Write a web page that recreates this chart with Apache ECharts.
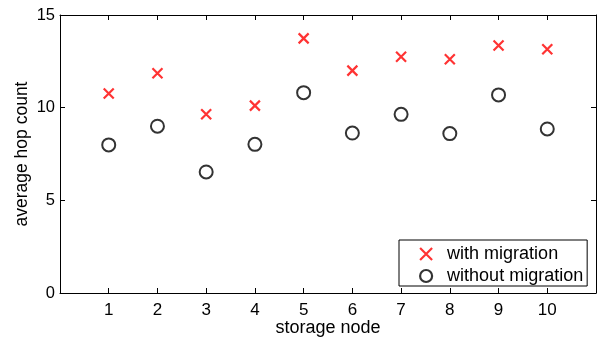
<!DOCTYPE html>
<html>
<head>
<meta charset="utf-8">
<script src="https://cdn.jsdelivr.net/npm/echarts@6/dist/echarts.min.js"></script>
<style>
html,body{margin:0;padding:0;background:#fff;}
#c{width:603px;height:337px;}
</style>
</head>
<body>
<div id="c"></div>
<script>
var nodes = [1, 2, 3, 4, 5, 6, 7, 8, 9, 10];
var withMigration = [10.76, 11.86, 9.64, 10.11, 13.74, 12.0, 12.75, 12.61, 13.35, 13.15];
var withoutMigration = [7.99, 9.0, 6.53, 8.02, 10.81, 8.63, 9.64, 8.6, 10.69, 8.85];
var yTicks = [0, 5, 10, 15];

var FONT = 'Liberation Sans, Arial, sans-serif';
var crossPath = 'path://M0,0L10,10M10,0L0,10';

function pairs(xs, ys) { return xs.map(function (x, i) { return [x, ys[i]]; }); }

var chart = echarts.init(document.getElementById('c'), null, {renderer: 'canvas'});
var axisLine = {show: true, onZero: false, lineStyle: {color: '#000', width: 1}};
var tickStyle = {show: true, inside: true, length: 5, lineStyle: {color: '#000', width: 1}};
chart.setOption({
  animation: false,
  backgroundColor: '#fff',
  grid: {left: 60, right: 7, top: 15, bottom: 44, containLabel: false, outerBoundsMode: 'none'},
  xAxis: [{
    type: 'value', min: 0, max: 11, interval: 1,
    name: 'storage node', nameLocation: 'middle', nameGap: 26, nameMoveOverlap: false,
    nameTextStyle: {fontFamily: FONT, fontSize: 18, color: '#000'},
    axisLine: axisLine, axisTick: tickStyle, splitLine: {show: false},
    axisLabel: {fontFamily: FONT, fontSize: 17, color: '#000', margin: 9,
      formatter: function (v) { return nodes.indexOf(v) >= 0 ? String(v) : ''; }}
  }, {
    type: 'value', min: 0, max: 11, interval: 1, position: 'top',
    axisLine: axisLine, axisTick: tickStyle, splitLine: {show: false},
    axisLabel: {show: false}
  }],
  yAxis: [{
    type: 'value', min: yTicks[0], max: yTicks[yTicks.length - 1], interval: 5,
    name: 'average hop count', nameLocation: 'middle', nameGap: 29, nameMoveOverlap: false,
    nameTextStyle: {fontFamily: FONT, fontSize: 17.5, color: '#000'},
    axisLine: axisLine, axisTick: tickStyle, splitLine: {show: false},
    axisLabel: {fontFamily: FONT, fontSize: 16.5, color: '#000', margin: 5}
  }, {
    type: 'value', min: yTicks[0], max: yTicks[yTicks.length - 1], interval: 5, position: 'right',
    axisLine: axisLine, axisTick: tickStyle, splitLine: {show: false},
    axisLabel: {show: false}
  }],
  legend: {
    orient: 'vertical', left: 399, top: 240,
    backgroundColor: '#fff', borderColor: '#000', borderWidth: 1,
    padding: [5, 4, 1, 20], itemGap: 4, itemWidth: 12, itemHeight: 12,
    textStyle: {fontFamily: FONT, fontSize: 18, lineHeight: 18, color: '#000', padding: [0, 0, 0, 10]},
    data: [
      {name: 'with migration', icon: crossPath, itemStyle: {color: 'rgba(0,0,0,0)', borderColor: '#ff0000', borderWidth: 2.2}},
      {name: 'without migration', icon: 'circle', itemStyle: {color: '#fff', borderColor: '#000', borderWidth: 2.2}}
    ]
  },
  series: [{
    name: 'with migration', type: 'scatter', symbol: crossPath, symbolSize: 10,
    itemStyle: {color: 'rgba(0,0,0,0)', borderColor: '#ff0000', borderWidth: 2.2},
    data: pairs(nodes, withMigration)
  }, {
    name: 'without migration', type: 'scatter', symbol: 'emptyCircle', symbolSize: 13,
    itemStyle: {color: '#000', borderColor: '#000', borderWidth: 2.2},
    data: pairs(nodes, withoutMigration)
  }]
});
</script>
</body>
</html>
